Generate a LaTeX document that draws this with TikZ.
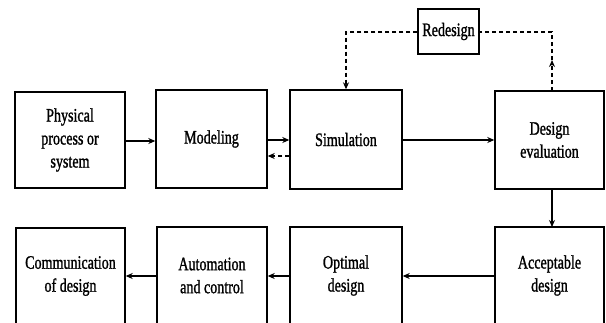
\documentclass[tikz,border=0pt]{standalone}
\usepackage{fontspec}
\setmainfont{Liberation Serif}[FakeStretch=0.74,FakeBold=1.2]
\usetikzlibrary{arrows.meta}
\begin{document}
\begin{tikzpicture}[x=1pt,y=-1pt,
  blk/.style={draw,line width=1.4pt,inner sep=0pt,align=center,font=\fontsize{19}{23}\selectfont},
  conn/.style={line width=1.4pt,-{Stealth[length=7pt,width=6pt]}},
  dconn/.style={line width=1.3pt,dash pattern=on 4pt off 3pt},
  tip/.style={-{Stealth[length=7pt,width=6pt]}}]
\useasboundingbox (0,0) rectangle (606,322);
% top row
\node[blk,minimum width=110pt,minimum height=96pt] (p) at (70,140) {Physical\\process or\\system};
\node[blk,minimum width=111pt,minimum height=98pt] (m) at (211.5,139) {Modeling};
\node[blk,minimum width=112pt,minimum height=99pt] (s) at (346,139.5) {Simulation};
\node[blk,minimum width=109pt,minimum height=98pt] (d) at (549.5,140) {Design\\evaluation};
\node[blk,minimum width=61pt,minimum height=45pt] (r) at (448.5,31.5) {Redesign};
% bottom row
\node[blk,minimum width=109pt,minimum height=96pt] (c) at (70.5,276) {Communication\\of design};
\node[blk,minimum width=110pt,minimum height=97pt] (a) at (212,275.5) {Automation\\and control};
\node[blk,minimum width=112pt,minimum height=97pt] (o) at (346,275.5) {Optimal\\design};
\node[blk,minimum width=109pt,minimum height=97pt] (acc) at (549.5,275.5) {Acceptable\\design};
% solid connectors
\draw[conn] (p.east |- 0,141) -- (m.west |- 0,141);
\draw[conn] (m.east |- 0,140) -- (s.west |- 0,140);
\draw[conn] (s.east |- 0,140) -- (d.west |- 0,140);
\draw[conn] (552,189) -- (552,227);
\draw[conn] (acc.west |- 0,276) -- (o.east |- 0,276);
\draw[conn] (o.west |- 0,276) -- (a.east |- 0,276);
\draw[conn] (a.west |- 0,276) -- (c.east |- 0,276);
% dashed feedback
\draw[dconn,tip] (s.west |- 0,156) -- (m.east |- 0,156);
\coordinate (up) at (552,60);
\coordinate (dtop) at (552,91);
\draw[dconn,tip] (dtop) -- (up);
\draw[dconn] (up) -- (552,32) -- (r.east |- 0,32);
\draw[dconn,tip] (r.west |- 0,32) -- (346,32) -- (s.north);
\end{tikzpicture}
\end{document}
